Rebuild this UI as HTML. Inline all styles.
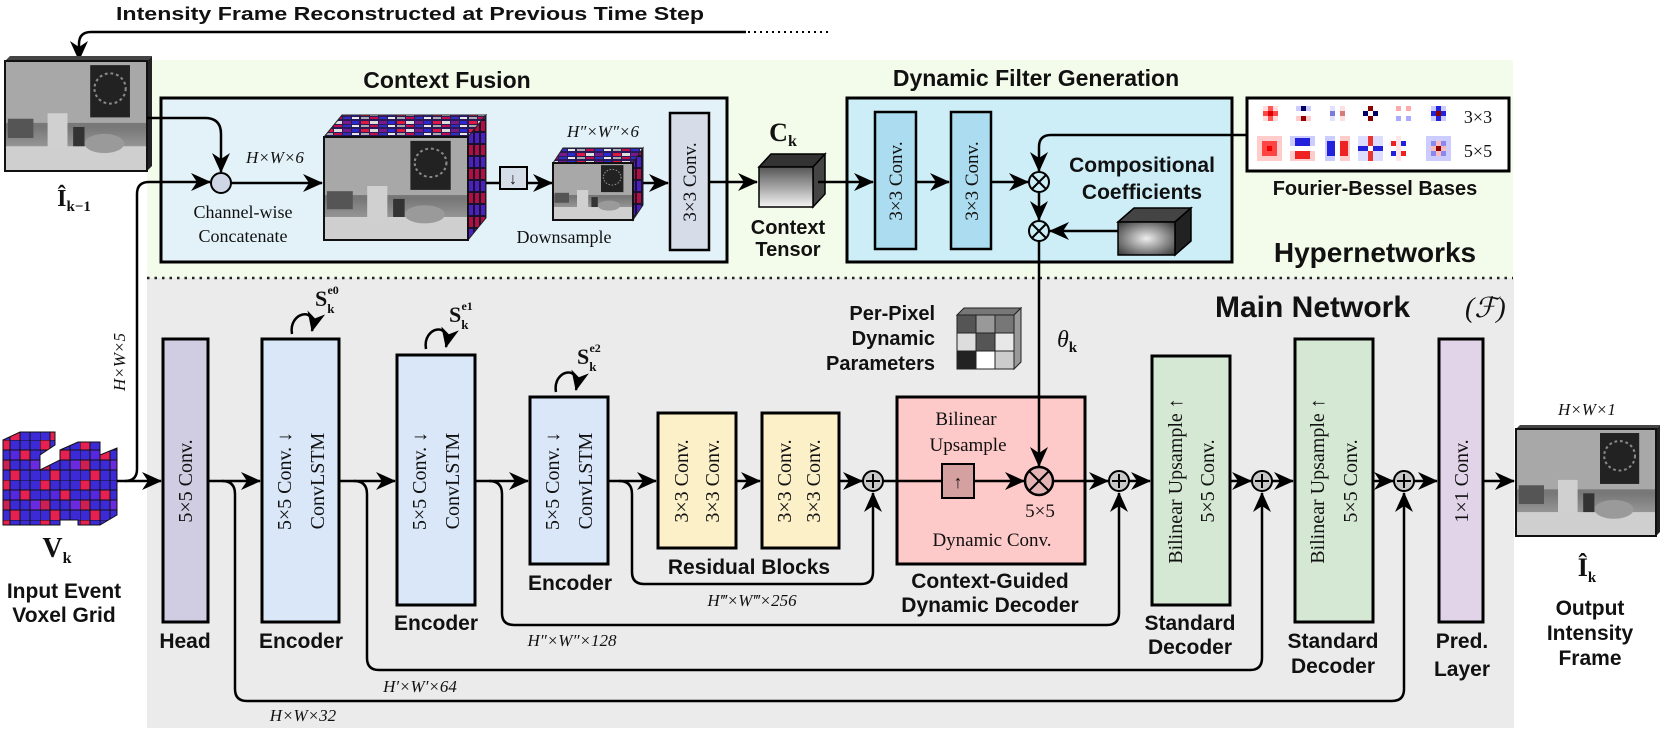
<!DOCTYPE html>
<html><head><meta charset="utf-8"><style>
html,body{margin:0;padding:0;background:#fff;}
svg{display:block;}
.b{font-family:"Liberation Sans",sans-serif;font-weight:bold;fill:#111;}
.s{font-family:"Liberation Serif",serif;fill:#111;}
.i{font-family:"Liberation Serif",serif;font-style:italic;fill:#111;}
</style></head><body>
<svg width="1661" height="730" viewBox="0 0 1661 730" xmlns="http://www.w3.org/2000/svg">
<defs>
<marker id="ar" markerUnits="userSpaceOnUse" markerWidth="20" markerHeight="18" refX="19" refY="9" orient="auto">
<path d="M0,0 L20,9 L0,18 L6,9 Z" fill="#000"/></marker>
<linearGradient id="tg" x1="0" y1="0" x2="0" y2="1"><stop offset="0" stop-color="#555"/><stop offset="1" stop-color="#f4f4f4"/></linearGradient>
<radialGradient id="dg" cx="0.5" cy="0.5" r="0.7"><stop offset="0" stop-color="#eee"/><stop offset="1" stop-color="#333"/></radialGradient>
<linearGradient id="pg" x1="0" y1="0" x2="0" y2="1"><stop offset="0" stop-color="#9a9a9a"/><stop offset="0.6" stop-color="#777"/><stop offset="1" stop-color="#bbb"/></linearGradient>
<pattern id="vox" width="40" height="40" patternUnits="userSpaceOnUse">
<rect width="40" height="40" fill="#3b2ad6"/>
<rect x="0" y="0" width="10" height="10" fill="#e62050"/><rect x="20" y="10" width="10" height="10" fill="#e62050"/>
<rect x="10" y="30" width="10" height="10" fill="#e62050"/><rect x="30" y="20" width="10" height="10" fill="#6a2ae0"/>
<rect x="10" y="10" width="10" height="10" fill="#5528e0"/><rect x="0" y="20" width="10" height="10" fill="#cc1f55"/>
<path d="M0,0H40M0,10H40M0,20H40M0,30H40M0,0V40M10,0V40M20,0V40M30,0V40" stroke="#111" stroke-width="1"/>
</pattern>
<pattern id="mos" width="36" height="8" patternUnits="userSpaceOnUse">
<rect width="36" height="8" fill="#2a1a5a"/>
<rect x="1" y="1" width="8" height="3" fill="#e01840"/><rect x="10" y="1" width="8" height="3" fill="#ddd"/>
<rect x="19" y="1" width="8" height="3" fill="#7a1a8a"/><rect x="28" y="1" width="7" height="3" fill="#2a2ad0"/>
<rect x="1" y="5" width="8" height="2" fill="#aaa"/><rect x="10" y="5" width="8" height="2" fill="#c0104a"/>
<rect x="19" y="5" width="8" height="2" fill="#3030c0"/><rect x="28" y="5" width="7" height="2" fill="#e8e8e8"/>
</pattern>
<pattern id="mosv" width="6" height="24" patternUnits="userSpaceOnUse">
<rect width="6" height="24" fill="#1a1030"/>
<rect x="1" y="1" width="4" height="10" fill="#b01040"/><rect x="1" y="13" width="4" height="10" fill="#4a20c0"/>
</pattern>
<g id="photo">
<rect width="100" height="80" fill="url(#pg)"/>
<rect x="0" y="0" width="100" height="45" fill="#a8a8a8"/>
<rect x="60" y="3" width="28" height="38" fill="#222"/>
<circle cx="74" cy="20" r="11" fill="none" stroke="#888" stroke-width="1.5" stroke-dasharray="2,2"/>
<rect x="30" y="38" width="14" height="28" fill="#d0d0d0"/>
<rect x="2" y="42" width="18" height="14" fill="#555"/>
<rect x="0" y="62" width="100" height="18" fill="#cfcfcf"/>
<ellipse cx="70" cy="60" rx="14" ry="7" fill="#9a9a9a"/>
<rect x="48" y="48" width="8" height="14" fill="#333"/>
</g>
</defs>

<!-- backgrounds -->
<rect x="147" y="60" width="1366" height="218" fill="#f3fbea"/>
<rect x="147" y="278" width="1367" height="450" fill="#ebebeb"/>
<line x1="147" y1="278" x2="1513" y2="278" stroke="#222" stroke-width="2.5" stroke-dasharray="2.5,5"/>

<!-- top title and feedback line -->
<text class="b" x="410" y="20" font-size="18" text-anchor="middle" textLength="588" lengthAdjust="spacingAndGlyphs">Intensity Frame Reconstructed at Previous Time Step</text>
<path d="M746,32 L91,32 Q79,32 79,44 L79,60" fill="none" stroke="#000" stroke-width="2.5" marker-end="url(#ar)"/>
<line x1="748" y1="32" x2="832" y2="32" stroke="#000" stroke-width="2" stroke-dasharray="2,4"/>

<!-- previous frame -->
<polygon points="5,61 10,56 152,56 147,61" fill="#444"/>
<polygon points="147,61 152,56 152,166 147,171" fill="#222"/>
<g transform="translate(5,61) scale(1.42,1.375)"><use href="#photo"/></g>
<rect x="5" y="61" width="142" height="110" fill="none" stroke="#111" stroke-width="2"/>
<text class="s" x="74" y="206" font-size="24" font-weight="bold" text-anchor="middle">Î<tspan font-size="15" dy="5">k−1</tspan></text>

<!-- Context Fusion -->
<text class="b" x="447" y="88" font-size="23" text-anchor="middle">Context Fusion</text>
<rect x="161" y="98" width="566" height="164" fill="#e3f2f8" stroke="#000" stroke-width="3"/>
<path d="M147,118 L205,118 Q221,118 221,134 L221,172" fill="none" stroke="#000" stroke-width="2.5" marker-end="url(#ar)"/>
<path d="M125,481 Q137,481 137,469 L137,194 Q137,182 149,182 L210,182" fill="none" stroke="#000" stroke-width="2.5" marker-end="url(#ar)"/>
<circle cx="221" cy="183" r="10" fill="#cfd6e6" stroke="#000" stroke-width="2"/>
<text class="i" x="275" y="163" font-size="17" text-anchor="middle">H×W×6</text>
<text class="s" x="243" y="218" font-size="18" text-anchor="middle">Channel-wise</text>
<text class="s" x="243" y="242" font-size="18" text-anchor="middle">Concatenate</text>
<line x1="231" y1="183" x2="322" y2="183" stroke="#000" stroke-width="2.5" marker-end="url(#ar)"/>
<polygon points="324,137 342,115 486,115 468,137" fill="url(#mos)" stroke="#222" stroke-width="1"/>
<polygon points="468,137 486,115 486,218 468,240" fill="url(#mosv)" stroke="#222" stroke-width="1"/>
<g transform="translate(324,137) scale(1.44,1.29)"><use href="#photo"/></g>
<rect x="324" y="137" width="144" height="103" fill="none" stroke="#111" stroke-width="2"/>
<line x1="486" y1="183" x2="500" y2="183" stroke="#000" stroke-width="2.5"/>
<rect x="500" y="167" width="27" height="22" fill="#d5dde8" stroke="#000" stroke-width="2"/>
<text class="s" x="513" y="184" font-size="16" text-anchor="middle">↓</text>
<text class="s" x="564" y="243" font-size="18" text-anchor="middle">Downsample</text>
<line x1="527" y1="183" x2="552" y2="183" stroke="#000" stroke-width="2.5" marker-end="url(#ar)"/>
<polygon points="553,163 563,148 643,148 633,163" fill="url(#mos)" stroke="#222" stroke-width="1"/>
<polygon points="633,163 643,148 643,205 633,220" fill="url(#mosv)" stroke="#222" stroke-width="1"/>
<g transform="translate(553,163) scale(0.8,0.71)"><use href="#photo"/></g>
<rect x="553" y="163" width="80" height="57" fill="none" stroke="#111" stroke-width="2"/>
<text class="i" x="603" y="137" font-size="17" text-anchor="middle">H″×W″×6</text>
<line x1="643" y1="183" x2="668" y2="183" stroke="#000" stroke-width="2.5" marker-end="url(#ar)"/>
<rect x="670" y="113" width="39" height="137" fill="#d6dce8" stroke="#000" stroke-width="2.5"/>
<text class="s" transform="translate(696,182) rotate(-90)" font-size="19" text-anchor="middle">3×3 Conv.</text>
<line x1="709" y1="182" x2="757" y2="182" stroke="#000" stroke-width="2.5" marker-end="url(#ar)"/>
<polygon points="759,167 771,154 825,154 813,167" fill="#333" stroke="#000" stroke-width="1.5"/>
<polygon points="813,167 825,154 825,194 813,207" fill="#444" stroke="#000" stroke-width="1.5"/>
<rect x="759" y="167" width="54" height="40" fill="url(#tg)" stroke="#000" stroke-width="1.5"/>
<text class="s" x="783" y="141" font-size="26" font-weight="bold" text-anchor="middle">C<tspan font-size="16" dy="5">k</tspan></text>
<text class="b" x="788" y="234" font-size="20" text-anchor="middle">Context</text>
<text class="b" x="788" y="256" font-size="20" text-anchor="middle">Tensor</text>

<!-- Dynamic filter generation -->
<text class="b" x="1036" y="86" font-size="23" text-anchor="middle">Dynamic Filter Generation</text>
<rect x="847" y="98" width="385" height="164" fill="#cdeef7" stroke="#000" stroke-width="3"/>
<line x1="818" y1="182" x2="873" y2="182" stroke="#000" stroke-width="2.5" marker-end="url(#ar)"/>
<rect x="875" y="112" width="41" height="137" fill="#acdcef" stroke="#000" stroke-width="2.5"/>
<text class="s" transform="translate(902,181) rotate(-90)" font-size="19" text-anchor="middle">3×3 Conv.</text>
<line x1="916" y1="182" x2="949" y2="182" stroke="#000" stroke-width="2.5" marker-end="url(#ar)"/>
<rect x="951" y="112" width="40" height="137" fill="#acdcef" stroke="#000" stroke-width="2.5"/>
<text class="s" transform="translate(978,181) rotate(-90)" font-size="19" text-anchor="middle">3×3 Conv.</text>
<line x1="991" y1="182" x2="1028" y2="182" stroke="#000" stroke-width="2.5" marker-end="url(#ar)"/>
<path d="M1247,135 L1051,135 Q1039,135 1039,147 L1039,171" fill="none" stroke="#000" stroke-width="2.5" marker-end="url(#ar)"/>
<circle cx="1039" cy="182" r="10" fill="#cdeef7" stroke="#000" stroke-width="2"/>
<path d="M1032,175 L1046,189 M1046,175 L1032,189" stroke="#000" stroke-width="2"/>
<line x1="1039" y1="192" x2="1039" y2="220" stroke="#000" stroke-width="2.5" marker-end="url(#ar)"/>
<line x1="1118" y1="231" x2="1050" y2="231" stroke="#000" stroke-width="2.5" marker-end="url(#ar)"/>
<text class="b" x="1142" y="172" font-size="21" text-anchor="middle">Compositional</text>
<text class="b" x="1142" y="199" font-size="21" text-anchor="middle">Coefficients</text>
<polygon points="1118,222 1134,208 1191,208 1175,222" fill="#444" stroke="#000" stroke-width="1.5"/>
<polygon points="1175,222 1191,208 1191,241 1175,255" fill="#222" stroke="#000" stroke-width="1.5"/>
<rect x="1118" y="222" width="57" height="33" fill="url(#dg)" stroke="#000" stroke-width="1.5"/>

<!-- Fourier-Bessel -->
<rect x="1247" y="98" width="262" height="73" fill="#fff" stroke="#000" stroke-width="3"/>
<g>
<rect x="1263" y="106" width="15" height="15" fill="#fdd"/><rect x="1268" y="106" width="5" height="15" fill="#f55"/><rect x="1263" y="111" width="15" height="5" fill="#f44"/><rect x="1268" y="111" width="5" height="5" fill="#d00"/>
<rect x="1296" y="106" width="15" height="5" fill="#ccf"/><rect x="1301" y="106" width="5" height="5" fill="#006"/><rect x="1296" y="116" width="15" height="5" fill="#fcc"/><rect x="1301" y="116" width="5" height="5" fill="#900"/>
<rect x="1330" y="111" width="5" height="5" fill="#00a"/><rect x="1340" y="111" width="5" height="5" fill="#900"/><rect x="1330" y="106" width="5" height="15" fill="#ccf" opacity="0.6"/><rect x="1340" y="106" width="5" height="15" fill="#fcc" opacity="0.6"/>
<rect x="1368" y="106" width="5" height="5" fill="#800"/><rect x="1363" y="111" width="5" height="5" fill="#006"/><rect x="1373" y="111" width="5" height="5" fill="#006"/><rect x="1368" y="116" width="5" height="5" fill="#800"/>
<rect x="1396" y="106" width="5" height="5" fill="#faa"/><rect x="1406" y="106" width="5" height="5" fill="#faa"/><rect x="1396" y="116" width="5" height="5" fill="#aaf"/><rect x="1406" y="116" width="5" height="5" fill="#aaf"/>
<rect x="1431" y="106" width="15" height="15" fill="#ccf"/><rect x="1436" y="106" width="5" height="15" fill="#22d"/><rect x="1431" y="111" width="15" height="5" fill="#22d"/><rect x="1436" y="111" width="5" height="5" fill="#800"/>
<rect x="1257" y="136" width="25" height="25" fill="#fcc"/><rect x="1262" y="141" width="15" height="15" fill="#f44"/><rect x="1267" y="146" width="5" height="5" fill="#e00"/>
<rect x="1290" y="136" width="25" height="10" fill="#ccf"/><rect x="1295" y="138" width="15" height="8" fill="#22d"/><rect x="1290" y="151" width="25" height="10" fill="#fcc"/><rect x="1295" y="151" width="15" height="8" fill="#e22"/>
<rect x="1325" y="136" width="10" height="25" fill="#ccf"/><rect x="1327" y="141" width="8" height="15" fill="#22d"/><rect x="1340" y="136" width="10" height="25" fill="#fcc"/><rect x="1340" y="141" width="8" height="15" fill="#e22"/>
<rect x="1358" y="136" width="25" height="25" fill="#ddf"/><rect x="1368" y="136" width="5" height="25" fill="#e33"/><rect x="1358" y="146" width="25" height="5" fill="#22d"/><rect x="1368" y="146" width="5" height="5" fill="#fff"/>
<rect x="1391" y="141" width="5" height="5" fill="#e22"/><rect x="1401" y="141" width="5" height="5" fill="#22d"/><rect x="1391" y="151" width="5" height="5" fill="#22d"/><rect x="1401" y="151" width="5" height="5" fill="#e22"/><rect x="1396" y="136" width="5" height="25" fill="#fdd" opacity="0.7"/>
<rect x="1426" y="136" width="25" height="25" fill="#ccf"/><rect x="1431" y="141" width="15" height="15" fill="#88e"/><rect x="1436" y="141" width="5" height="15" fill="#fbb"/><rect x="1431" y="146" width="15" height="5" fill="#fbb"/><rect x="1436" y="146" width="5" height="5" fill="#800"/>
</g>
<text class="s" x="1478" y="123" font-size="18" text-anchor="middle">3×3</text>
<text class="s" x="1478" y="157" font-size="18" text-anchor="middle">5×5</text>
<text class="b" x="1375" y="195" font-size="20" text-anchor="middle">Fourier-Bessel Bases</text>
<text class="b" x="1375" y="262" font-size="28" text-anchor="middle">Hypernetworks</text>

<!-- Main network title -->
<text class="b" x="1215" y="317" font-size="30">Main Network</text>
<text class="s" x="1465" y="317" font-size="28" font-style="italic">(ℱ)</text>

<!-- voxel grid -->
<polygon points="3,440 20,432 55,432 55,445 40,455 40,470 60,460 60,450 78,442 100,442 100,455 117,448 117,515 100,525 78,525 78,520 60,520 60,525 3,525" fill="url(#vox)" stroke="#111" stroke-width="1"/>
<text class="s" x="57" y="557" font-size="28" font-weight="bold" text-anchor="middle">V<tspan font-size="16" dy="6">k</tspan></text>
<text class="b" x="64" y="598" font-size="21" text-anchor="middle">Input Event</text>
<text class="b" x="64" y="622" font-size="21" text-anchor="middle">Voxel Grid</text>
<text class="i" transform="translate(125,362) rotate(-90)" font-size="17" text-anchor="middle">H×W×5</text>

<!-- dynamic decoder box (drawn before lines) -->
<rect x="897" y="397" width="188" height="167" fill="#fdc9c9" stroke="#000" stroke-width="3"/>

<!-- main axis -->
<g stroke="#000" stroke-width="2.5" fill="none">
<line x1="117" y1="481" x2="161" y2="481" marker-end="url(#ar)"/>
<line x1="208" y1="481" x2="260" y2="481" marker-end="url(#ar)"/>
<line x1="339" y1="481" x2="395" y2="481" marker-end="url(#ar)"/>
<line x1="475" y1="481" x2="528" y2="481" marker-end="url(#ar)"/>
<line x1="608" y1="481" x2="656" y2="481" marker-end="url(#ar)"/>
<line x1="736" y1="481" x2="760" y2="481" marker-end="url(#ar)"/>
<line x1="839" y1="481" x2="862" y2="481" marker-end="url(#ar)"/>
<line x1="883" y1="481" x2="942" y2="481"/>
<line x1="974" y1="481" x2="1024" y2="481" marker-end="url(#ar)"/>
<line x1="1053" y1="481" x2="1108" y2="481" marker-end="url(#ar)"/>
<line x1="1129" y1="481" x2="1150" y2="481" marker-end="url(#ar)"/>
<line x1="1230" y1="481" x2="1251" y2="481" marker-end="url(#ar)"/>
<line x1="1272" y1="481" x2="1293" y2="481" marker-end="url(#ar)"/>
<line x1="1373" y1="481" x2="1393" y2="481" marker-end="url(#ar)"/>
<line x1="1414" y1="481" x2="1437" y2="481" marker-end="url(#ar)"/>
<line x1="1483" y1="481" x2="1514" y2="481" marker-end="url(#ar)"/>
<path d="M222,481 Q235,481 235,494 L235,689 Q235,701 247,701 L1392,701 Q1404,701 1404,689 L1404,493" marker-end="url(#ar)"/>
<path d="M354,481 Q367,481 367,494 L367,658 Q367,670 379,670 L1250,670 Q1262,670 1262,658 L1262,493" marker-end="url(#ar)"/>
<path d="M489,481 Q502,481 502,494 L502,613 Q502,625 514,625 L1107,625 Q1119,625 1119,613 L1119,493" marker-end="url(#ar)"/>
<path d="M619,481 Q632,481 632,494 L632,572 Q632,584 644,584 L861,584 Q873,584 873,572 L873,493" marker-end="url(#ar)"/>
<line x1="1039" y1="241" x2="1039" y2="466" marker-end="url(#ar)"/>
</g>
<circle cx="1039" cy="231" r="10" fill="#cdeef7" stroke="#000" stroke-width="2"/>
<path d="M1032,224 L1046,238 M1046,224 L1032,238" stroke="#000" stroke-width="2"/>
<text class="i" x="303" y="721" font-size="17" text-anchor="middle">H×W×32</text>
<text class="i" x="420" y="692" font-size="17" text-anchor="middle">H′×W′×64</text>
<text class="i" x="572" y="646" font-size="17" text-anchor="middle">H″×W″×128</text>
<text class="i" x="752" y="606" font-size="17" text-anchor="middle">H‴×W‴×256</text>

<!-- Head -->
<rect x="163" y="339" width="45" height="283" fill="#d0cde3" stroke="#000" stroke-width="3"/>
<text class="s" transform="translate(192,481) rotate(-90)" font-size="20" text-anchor="middle">5×5 Conv.</text>
<text class="b" x="185" y="648" font-size="21" text-anchor="middle">Head</text>
<!-- Enc1 -->
<rect x="262" y="339" width="77" height="283" fill="#d9e7f8" stroke="#000" stroke-width="3"/>
<text class="s" transform="translate(291,481) rotate(-90)" font-size="20" text-anchor="middle">5×5 Conv. ↓</text>
<text class="s" transform="translate(324,481) rotate(-90)" font-size="20" text-anchor="middle">ConvLSTM</text>
<text class="b" x="301" y="648" font-size="21" text-anchor="middle">Encoder</text>
<path d="M292,334 C288,312 318,305 312,331" fill="none" stroke="#000" stroke-width="2.5" marker-end="url(#ar)"/>
<text class="s" x="315" y="306" font-size="22" font-weight="bold">S<tspan font-size="13" dy="7">k</tspan><tspan font-size="12" dx="-7" dy="-19">e0</tspan></text>
<!-- Enc2 -->
<rect x="397" y="355" width="78" height="250" fill="#d9e7f8" stroke="#000" stroke-width="3"/>
<text class="s" transform="translate(426,481) rotate(-90)" font-size="20" text-anchor="middle">5×5 Conv. ↓</text>
<text class="s" transform="translate(459,481) rotate(-90)" font-size="20" text-anchor="middle">ConvLSTM</text>
<text class="b" x="436" y="630" font-size="21" text-anchor="middle">Encoder</text>
<path d="M426,349 C422,327 452,320 446,347" fill="none" stroke="#000" stroke-width="2.5" marker-end="url(#ar)"/>
<text class="s" x="449" y="322" font-size="22" font-weight="bold">S<tspan font-size="13" dy="7">k</tspan><tspan font-size="12" dx="-7" dy="-19">e1</tspan></text>
<!-- Enc3 -->
<rect x="530" y="397" width="78" height="167" fill="#d9e7f8" stroke="#000" stroke-width="3"/>
<text class="s" transform="translate(559,481) rotate(-90)" font-size="20" text-anchor="middle">5×5 Conv. ↓</text>
<text class="s" transform="translate(592,481) rotate(-90)" font-size="20" text-anchor="middle">ConvLSTM</text>
<text class="b" x="570" y="590" font-size="21" text-anchor="middle">Encoder</text>
<path d="M556,392 C552,370 582,363 576,390" fill="none" stroke="#000" stroke-width="2.5" marker-end="url(#ar)"/>
<text class="s" x="577" y="364" font-size="22" font-weight="bold">S<tspan font-size="13" dy="7">k</tspan><tspan font-size="12" dx="-7" dy="-19">e2</tspan></text>
<!-- Residual -->
<rect x="658" y="413" width="78" height="135" fill="#fcf0c9" stroke="#000" stroke-width="3"/>
<text class="s" transform="translate(688,481) rotate(-90)" font-size="20" text-anchor="middle">3×3 Conv.</text>
<text class="s" transform="translate(719,481) rotate(-90)" font-size="20" text-anchor="middle">3×3 Conv.</text>
<rect x="762" y="413" width="77" height="135" fill="#fcf0c9" stroke="#000" stroke-width="3"/>
<text class="s" transform="translate(791,481) rotate(-90)" font-size="20" text-anchor="middle">3×3 Conv.</text>
<text class="s" transform="translate(820,481) rotate(-90)" font-size="20" text-anchor="middle">3×3 Conv.</text>
<text class="b" x="749" y="574" font-size="21" text-anchor="middle">Residual Blocks</text>
<!-- plus circles -->
<g>
<circle cx="873" cy="481" r="10" fill="#c8c8c8" stroke="#000" stroke-width="2"/>
<circle cx="1119" cy="481" r="10" fill="#c8c8c8" stroke="#000" stroke-width="2"/>
<circle cx="1262" cy="481" r="10" fill="#c8c8c8" stroke="#000" stroke-width="2"/>
<circle cx="1404" cy="481" r="10" fill="#c8c8c8" stroke="#000" stroke-width="2"/>
<path d="M866,481H880M873,474V488M1112,481H1126M1119,474V488M1255,481H1269M1262,474V488M1397,481H1411M1404,474V488" stroke="#000" stroke-width="2"/>
</g>
<!-- Per-pixel params -->
<text class="b" x="935" y="320" font-size="20" text-anchor="end">Per-Pixel</text>
<text class="b" x="935" y="345" font-size="20" text-anchor="end">Dynamic</text>
<text class="b" x="935" y="370" font-size="20" text-anchor="end">Parameters</text>
<polygon points="957,315 964,308 1021,308 1014,315" fill="#777" stroke="#222"/>
<polygon points="1014,315 1021,308 1021,362 1014,369" fill="#999" stroke="#222"/>
<g stroke="#222" stroke-width="1">
<rect x="957" y="315" width="19" height="18" fill="#555"/><rect x="976" y="315" width="19" height="18" fill="#999"/><rect x="995" y="315" width="19" height="18" fill="#777"/>
<rect x="957" y="333" width="19" height="18" fill="#ddd"/><rect x="976" y="333" width="19" height="18" fill="#555"/><rect x="995" y="333" width="19" height="18" fill="#e8e8e8"/>
<rect x="957" y="351" width="19" height="18" fill="#222"/><rect x="976" y="351" width="19" height="18" fill="#fff"/><rect x="995" y="351" width="19" height="18" fill="#ccc"/>
</g>
<text class="i" x="1057" y="347" font-size="24">θ<tspan font-style="normal" font-weight="bold" font-size="15" dy="5">k</tspan></text>
<!-- dynamic decoder contents -->
<text class="s" x="966" y="425" font-size="19" text-anchor="middle">Bilinear</text>
<text class="s" x="968" y="451" font-size="19" text-anchor="middle">Upsample</text>
<rect x="942" y="464" width="32" height="34" fill="#d4a0a0" stroke="#000" stroke-width="2"/>
<text class="s" x="958" y="488" font-size="18" text-anchor="middle">↑</text>
<circle cx="1039" cy="481" r="14" fill="#e4b4b4" stroke="#000" stroke-width="2.5"/>
<path d="M1029,471 L1049,491 M1049,471 L1029,491" stroke="#000" stroke-width="2"/>
<text class="s" x="1040" y="517" font-size="19" text-anchor="middle">5×5</text>
<text class="s" x="992" y="546" font-size="19" text-anchor="middle">Dynamic Conv.</text>
<text class="b" x="990" y="588" font-size="21" text-anchor="middle">Context-Guided</text>
<text class="b" x="990" y="612" font-size="21" text-anchor="middle">Dynamic Decoder</text>
<!-- std decoders -->
<rect x="1152" y="356" width="78" height="249" fill="#d5e8d4" stroke="#000" stroke-width="3"/>
<text class="s" transform="translate(1182,481) rotate(-90)" font-size="20" text-anchor="middle">Bilinear Upsample ↑</text>
<text class="s" transform="translate(1214,481) rotate(-90)" font-size="20" text-anchor="middle">5×5 Conv.</text>
<text class="b" x="1190" y="630" font-size="21" text-anchor="middle">Standard</text>
<text class="b" x="1190" y="654" font-size="21" text-anchor="middle">Decoder</text>
<rect x="1295" y="339" width="78" height="283" fill="#d5e8d4" stroke="#000" stroke-width="3"/>
<text class="s" transform="translate(1324,481) rotate(-90)" font-size="20" text-anchor="middle">Bilinear Upsample ↑</text>
<text class="s" transform="translate(1357,481) rotate(-90)" font-size="20" text-anchor="middle">5×5 Conv.</text>
<text class="b" x="1333" y="648" font-size="21" text-anchor="middle">Standard</text>
<text class="b" x="1333" y="673" font-size="21" text-anchor="middle">Decoder</text>
<!-- pred -->
<rect x="1439" y="339" width="44" height="283" fill="#e1d4e8" stroke="#000" stroke-width="3"/>
<text class="s" transform="translate(1468,481) rotate(-90)" font-size="20" text-anchor="middle">1×1 Conv.</text>
<text class="b" x="1462" y="648" font-size="21" text-anchor="middle">Pred.</text>
<text class="b" x="1462" y="676" font-size="21" text-anchor="middle">Layer</text>
<!-- output -->
<polygon points="1516,429 1520,425 1660,425 1656,429" fill="#444"/>
<polygon points="1656,429 1660,425 1660,532 1656,536" fill="#222"/>
<g transform="translate(1516,429) scale(1.4,1.34)"><use href="#photo"/></g>
<rect x="1516" y="429" width="140" height="107" fill="none" stroke="#111" stroke-width="2"/>
<text class="i" x="1587" y="415" font-size="17" text-anchor="middle">H×W×1</text>
<text class="s" x="1587" y="576" font-size="26" font-weight="bold" text-anchor="middle">Î<tspan font-size="15" dy="6">k</tspan></text>
<text class="b" x="1590" y="615" font-size="21" text-anchor="middle">Output</text>
<text class="b" x="1590" y="640" font-size="21" text-anchor="middle">Intensity</text>
<text class="b" x="1590" y="665" font-size="21" text-anchor="middle">Frame</text>
</svg>
</body></html>
